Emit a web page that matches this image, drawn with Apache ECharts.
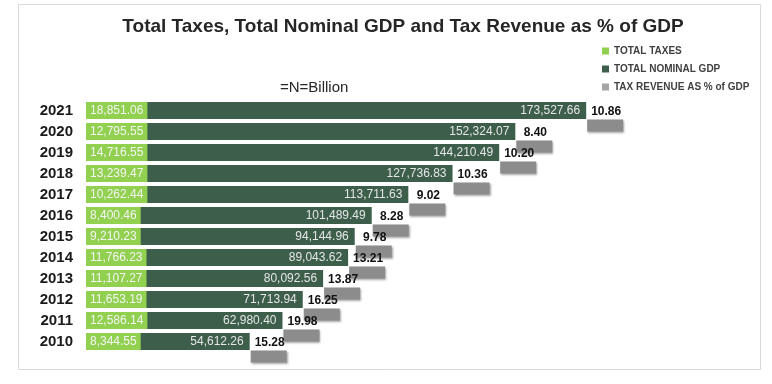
<!DOCTYPE html>
<html>
<head>
<meta charset="utf-8">
<script src="https://cdn.jsdelivr.net/npm/echarts@6/dist/echarts.min.js"></script>
<style>
html,body{margin:0;padding:0;background:#fff;}
#chart{width:772px;height:384px;}
</style>
</head>
<body>
<div id="chart"></div>
<script>
const years = ['2010','2011','2012','2013','2014','2015','2016','2017','2018','2019','2020','2021'];
const totalTaxes = [8344.55, 12586.14, 11653.19, 11107.27, 11766.23, 9210.23, 8400.46, 10262.44, 13239.47, 14716.55, 12795.55, 18851.06];
const nominalGdp = [54612.26, 62980.40, 71713.94, 80092.56, 89043.62, 94144.96, 101489.49, 113711.63, 127736.83, 144210.49, 152324.07, 173527.66];
const taxPctGdp = [15.28, 19.98, 16.25, 13.87, 13.21, 9.78, 8.28, 9.02, 10.36, 10.20, 8.40, 10.86];

const FONT = "'Liberation Sans', Arial, sans-serif";
const nf = new Intl.NumberFormat('en-US', {minimumFractionDigits: 2, maximumFractionDigits: 2});

const pctData = years.map((y, i) => [totalTaxes[i] + nominalGdp[i], i, taxPctGdp[i]]);

const chart = echarts.init(document.getElementById('chart'));
chart.setOption({
  animation: false,
  backgroundColor: '#fff',
  graphic: [{
    type: 'rect', silent: true, z: -10,
    shape: {x: 18.5, y: 4.5, width: 742, height: 365},
    style: {fill: '#fff', stroke: '#d9d9d9', lineWidth: 1}
  }, {
    type: 'text', left: 280, top: 80,
    style: {text: '=N=Billion', font: "15px " + FONT, fill: '#262626'}
  }],
  title: {
    text: 'Total Taxes, Total Nominal GDP and Tax Revenue as % of GDP',
    left: 398, textAlign: 'center', top: 12,
    textStyle: {fontFamily: FONT, fontWeight: 'bold', fontSize: 19, color: '#262626'}
  },
  legend: {
    orient: 'vertical', left: 597, top: 41, itemWidth: 7, itemHeight: 7, itemGap: 8,
    icon: 'rect',
    textStyle: {fontFamily: FONT, fontWeight: 'bold', fontSize: 10, color: '#404040'},
    data: ['TOTAL TAXES', 'TOTAL NOMINAL GDP', 'TAX REVENUE AS % of GDP']
  },
  grid: {left: 86, width: 650, top: 100, height: 252},
  xAxis: {type: 'value', min: 0, max: 250000, show: false},
  yAxis: {
    type: 'category', data: years,
    axisLine: {show: false}, axisTick: {show: false},
    axisLabel: {fontFamily: FONT, fontWeight: 'bold', fontSize: 15, color: '#1a1a1a', margin: 13}
  },
  series: [{
    name: 'TOTAL TAXES', type: 'bar', stack: 'a', data: totalTaxes, barWidth: 17, z: 3,
    itemStyle: {color: '#92d050'},
    label: {
      show: true, position: 'insideLeft', distance: 0,
      formatter: p => nf.format(p.value),
      fontFamily: FONT, fontSize: 12, color: '#f4f4f4',
      backgroundColor: '#92d050', padding: [3, 4, 2, 4], lineHeight: 12
    }
  }, {
    name: 'TOTAL NOMINAL GDP', type: 'bar', stack: 'a', data: nominalGdp, barWidth: 17,
    itemStyle: {color: '#3c5e4b'},
    label: {
      show: true, position: 'insideRight', distance: 6,
      formatter: p => nf.format(p.value),
      fontFamily: FONT, fontSize: 12, color: '#e6e6e6'
    }
  }, {
    name: 'TAX REVENUE AS % of GDP', type: 'custom', data: pctData, z: 4,
    itemStyle: {color: '#a5a5a5'},
    encode: {x: 0, y: 1},
    renderItem: function (params, api) {
      const p = api.coord([api.value(0), api.value(1)]);
      const x = p[0], cy = p[1];
      return {
        type: 'group',
        children: [{
          type: 'rect', z2: 1,
          shape: {x: x + 1, y: cy + 9, width: 36, height: 12},
          style: {fill: '#8c8c8c', shadowBlur: 2, shadowColor: 'rgba(0,0,0,0.35)', shadowOffsetX: 1, shadowOffsetY: 1}
        }, {
          type: 'text', z2: 10,
          style: {
            x: x + 20, y: cy + 1, text: api.value(2).toFixed(2),
            textAlign: 'center', textVerticalAlign: 'middle',
            font: "bold 12px " + FONT, fill: '#111'
          }
        }]
      };
    }
  }]
});
</script>
</body>
</html>
